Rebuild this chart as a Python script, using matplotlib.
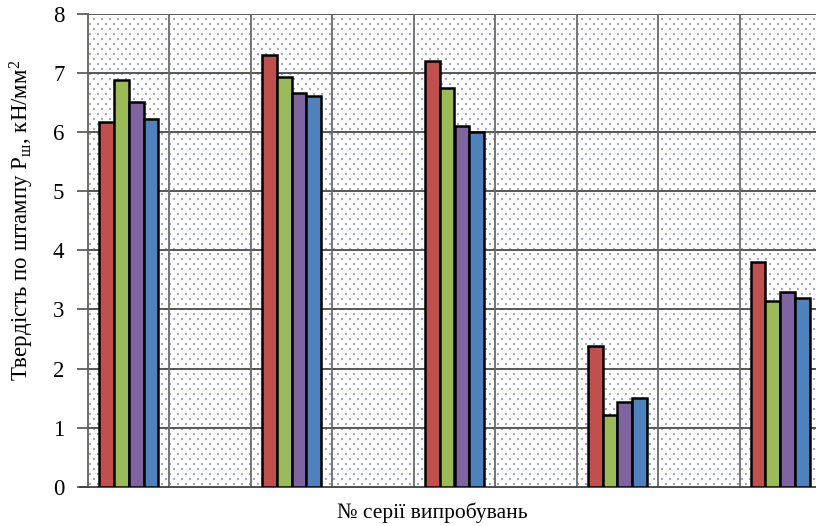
import numpy as np
import matplotlib
matplotlib.use("Agg")
import matplotlib.pyplot as plt

plt.rcParams['font.family'] = ['Liberation Serif', 'DejaVu Serif']
plt.rcParams['mathtext.fontset'] = 'custom'
plt.rcParams['mathtext.rm'] = 'Liberation Serif'
plt.rcParams['mathtext.it'] = 'Liberation Serif:italic'

# Test series (one group of bars per series, gaps between groups)
series_pos = [0, 2, 4, 6, 8]
red_vals = [6.18, 7.31, 7.20, 2.38, 3.81]
green_vals = [6.88, 6.94, 6.75, 1.21, 3.14]
purple_vals = [6.51, 6.66, 6.10, 1.43, 3.29]
blue_vals = [6.23, 6.61, 6.00, 1.50, 3.19]
bar_colors = ['#C0504D', '#9BBB59', '#8064A2', '#4F81BD']
y_ticks = [0, 1, 2, 3, 4, 5, 6, 7, 8]

W, H, DPI = 816, 526, 100
fig = plt.figure(figsize=(W / DPI, H / DPI), dpi=DPI)
left, right, bottom, top = 88, 821, 526 - 486.7, 526 - 14
ax = fig.add_axes([left / W, bottom / H, (right - left) / W, (top - bottom) / H])

ax.set_xlim(-0.5, 8.5)
ax.set_ylim(0, 8)

# fine dotted background fill
ax_w, ax_h = right - left, top - bottom
pts = []
for j, yy in enumerate(np.arange(3, ax_h, 5)):
    off = 2 if j % 2 == 0 else 6
    for xx in np.arange(off, ax_w, 8):
        pts.append((xx / ax_w, yy / ax_h))
pts = np.array(pts)
ax.scatter(pts[:, 0], pts[:, 1], s=0.8, marker='s', color='#A6A6CA',
           linewidths=0, transform=ax.transAxes, zorder=0.5)

# grid: horizontal at every unit, vertical between categories
for yv in y_ticks[1:]:
    ax.axhline(yv, color='#4A4A4A', lw=1.3, zorder=1)
for xv in np.arange(0.5, 8.6, 1.0):
    ax.axvline(xv, color='#6A6A6A', lw=1.3, zorder=1)

w = 0.182
for k, (vals, col) in enumerate(zip([red_vals, green_vals, purple_vals, blue_vals], bar_colors)):
    xs = np.array(series_pos) + (k - 1.5) * w
    ax.bar(xs, vals, width=w, color=col, edgecolor='black', linewidth=1.8, zorder=3)

ax.set_yticks(y_ticks)
ax.set_yticklabels([str(v) for v in y_ticks])
ax.set_xticks([])
ax.tick_params(axis='y', direction='out', length=8, width=1.2, color='#505050',
               pad=9, labelsize=16.5)

for s in ['top', 'right']:
    ax.spines[s].set_visible(False)
ax.spines['left'].set_color('#606060')
ax.spines['left'].set_linewidth(1.3)
ax.spines['bottom'].set_color('#404040')
ax.spines['bottom'].set_linewidth(1.3)
ax.spines['bottom'].set_bounds(-0.5 - 8 / 81.5, 8.5)

ax.set_ylabel('Твердість по штампу P$_\\mathregular{ш}$, кН/мм$^\\mathregular{2}$', fontsize=16.5)
ax.yaxis.set_label_coords((22 - left) / ax_w, (526 - 220 - bottom) / ax_h)
ax.set_xlabel('№ серії випробувань', fontsize=15.5)
ax.xaxis.set_label_coords((432 - left) / ax_w, (526 - 513 - bottom) / ax_h)
ax.xaxis.label.set_va('center')
ax.yaxis.label.set_va('center')
ax.yaxis.label.set_ha('center')

fig.savefig('out.png', dpi=DPI)
